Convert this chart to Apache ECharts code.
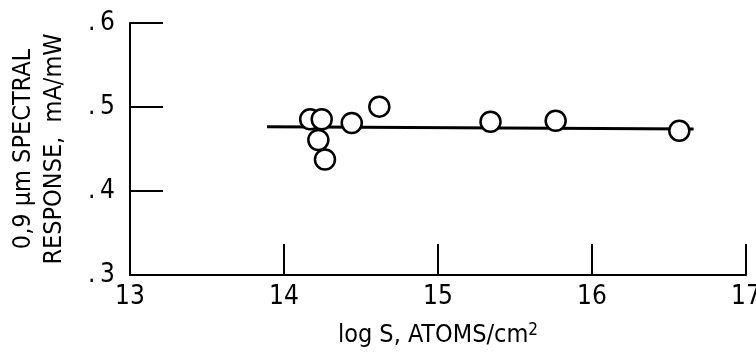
<!DOCTYPE html>
<html>
<head>
<meta charset="utf-8">
<script src="https://cdn.jsdelivr.net/npm/echarts@6/dist/echarts.min.js"></script>
<style>
html, body { margin: 0; padding: 0; background: #fff; }
#main { width: 756px; height: 359px; }
</style>
</head>
<body>
<div id="main"></div>
<script>
// 测量点 (log S, 响应)
let logS = [14.17, 14.245, 14.223, 14.266, 14.44, 14.619, 15.341, 15.764, 16.567];
let response = [0.4854, 0.4854, 0.4607, 0.4375, 0.481, 0.5004, 0.4825, 0.4837, 0.4718];
// 拟合直线
let fitX = [13.89, 16.66];
let fitY = [0.4765, 0.4738];
let xTicks = [13, 14, 15, 16, 17];
let yTicks = [0.3, 0.4, 0.5, 0.6];

let font = "'Liberation Sans Narrow', 'DejaVu Sans Condensed', sans-serif";
let ink = '#000';

let chart = echarts.init(document.getElementById('main'));

let pts = logS.map((x, i) => [x, response[i]]);
let fit = fitX.map((x, i) => [x, fitY[i]]);

let option = {
	animation: false,
	grid: { left: 130, right: 10, top: 23, bottom: 84, outerBoundsMode: 'none', containLabel: false },
	xAxis: {
		type: 'value',
		min: xTicks[0],
		max: xTicks[xTicks.length - 1],
		interval: 1,
		name: '{a|log S, ATOMS/cm}{s|2}',
		nameLocation: 'middle',
		nameGap: 47,
		nameTextStyle: {
			rich: {
				a: { fontFamily: font, fontSize: 25, color: ink },
				s: { fontFamily: font, fontSize: 17, color: ink, verticalAlign: 'top', padding: [0, 0, 10, 0] }
			}
		},
		axisLine: { lineStyle: { color: ink, width: 2 } },
		axisTick: { inside: true, length: 31, lineStyle: { color: ink, width: 2 } },
		axisLabel: { fontFamily: font, fontSize: 26, color: ink, margin: 9 },
		splitLine: { show: false }
	},
	yAxis: {
		type: 'value',
		min: yTicks[0],
		max: yTicks[yTicks.length - 1],
		interval: 0.1,
		name: '0,9 μm SPECTRAL\nRESPONSE,  mA/mW',
		nameLocation: 'middle',
		nameGap: 60,
		nameTextStyle: { fontFamily: font, fontSize: 25, color: ink, lineHeight: 31 },
		axisLine: { lineStyle: { color: ink, width: 2 } },
		axisTick: { inside: true, length: 33, lineStyle: { color: ink, width: 2 } },
		axisLabel: {
			fontFamily: font, fontSize: 26, color: ink, margin: 15,
			formatter: v => '.\u2009' + Math.round(v * 10)
		},
		splitLine: { show: false }
	},
	series: [
		{
			type: 'line',
			data: fit,
			symbol: 'none',
			lineStyle: { color: ink, width: 3 },
			z: 2
		},
		{
			type: 'scatter',
			data: pts,
			symbol: 'circle',
			symbolSize: 20,
			itemStyle: { color: '#fff', borderColor: ink, borderWidth: 2.5, opacity: 1 },
			z: 3
		}
	]
};
chart.setOption(option);
</script>
</body>
</html>
